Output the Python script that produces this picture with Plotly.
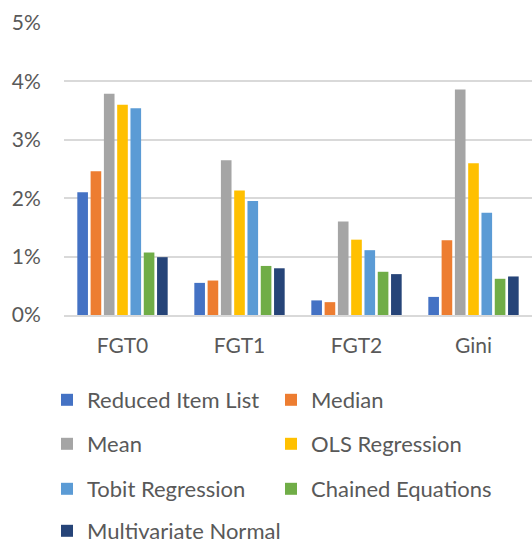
import plotly.graph_objects as go

categories = ["FGT0", "FGT1", "FGT2", "Gini"]
series_names = ["Reduced Item List", "Median", "Mean", "OLS Regression",
                "Tobit Regression", "Chained Equations", "Multivariate Normal"]
reduced = [2.10, 0.55, 0.25, 0.31]
median = [2.46, 0.59, 0.22, 1.28]
mean = [3.79, 2.65, 1.60, 3.86]
ols = [3.60, 2.13, 1.29, 2.60]
tobit = [3.54, 1.95, 1.11, 1.75]
chained = [1.07, 0.84, 0.74, 0.62]
mvn = [0.99, 0.80, 0.70, 0.66]
values = [reduced, median, mean, ols, tobit, chained, mvn]
colors = ["#4472C4", "#ED7D31", "#A5A5A5", "#FFC000", "#5B9BD5", "#70AD47", "#264478"]
tick_vals = [0, 1, 2, 3, 4, 5]
tick_text = ["0%", "1%", "2%", "3%", "4%", "5%"]

legend_ids = ["legend", "legend", "legend2", "legend2", "legend3", "legend3", "legend4"]

fig = go.Figure()
for name, vals, col, lg in zip(series_names, values, colors, legend_ids):
    fig.add_trace(go.Bar(x=categories, y=vals, name=name, marker_color=col,
                         marker_line_width=0, legend=lg))

W, H = 532, 543
plot_left, plot_top, axis_y = 64, 23, 315

tick_font = dict(family="Lato", size=21, color="#595959")
leg_font = dict(family="Lato", size=22, color="#595959")


def py(y):
    return (H - y) / H


def px(x):
    return x / W


leg_common = dict(orientation="h", x=px(47), xanchor="left", yanchor="middle",
                  entrywidth=179, entrywidthmode="pixels", font=leg_font,
                  bgcolor="rgba(0,0,0,0)", itemclick=False, itemdoubleclick=False)
ys = [400, 444, 489, 531]

fig.update_layout(
    width=W, height=H,
    margin=dict(l=0, r=0, t=0, b=0, autoexpand=False),
    paper_bgcolor="white", plot_bgcolor="white",
    font=tick_font,
    barmode="group", bargap=0.205, bargroupgap=0.2,
    legend=dict(leg_common, y=py(ys[0])),
    legend2=dict(leg_common, y=py(ys[1])),
    legend3=dict(leg_common, y=py(ys[2])),
    legend4=dict(leg_common, y=py(ys[3]), entrywidth=300),
    xaxis=dict(domain=[px(plot_left), 1], showgrid=False, showline=True,
               linecolor="#D9D9D9", linewidth=1.5,
               ticks="outside", ticklen=11, tickcolor="rgba(0,0,0,0)",
               tickfont=tick_font, automargin=False, zeroline=False),
    yaxis=dict(range=[0, 5], domain=[py(axis_y), py(plot_top)], tickvals=tick_vals,
               ticktext=tick_text, showgrid=True, gridcolor="#D9D9D9", gridwidth=1.5,
               zeroline=False, ticks="outside", ticklen=18,
               tickcolor="rgba(0,0,0,0)", tickfont=tick_font, automargin=False),
)

fig.write_html("out.html", config={"displayModeBar": False},
               post_script="document.body.style.margin='0';document.body.style.overflow='hidden';")
